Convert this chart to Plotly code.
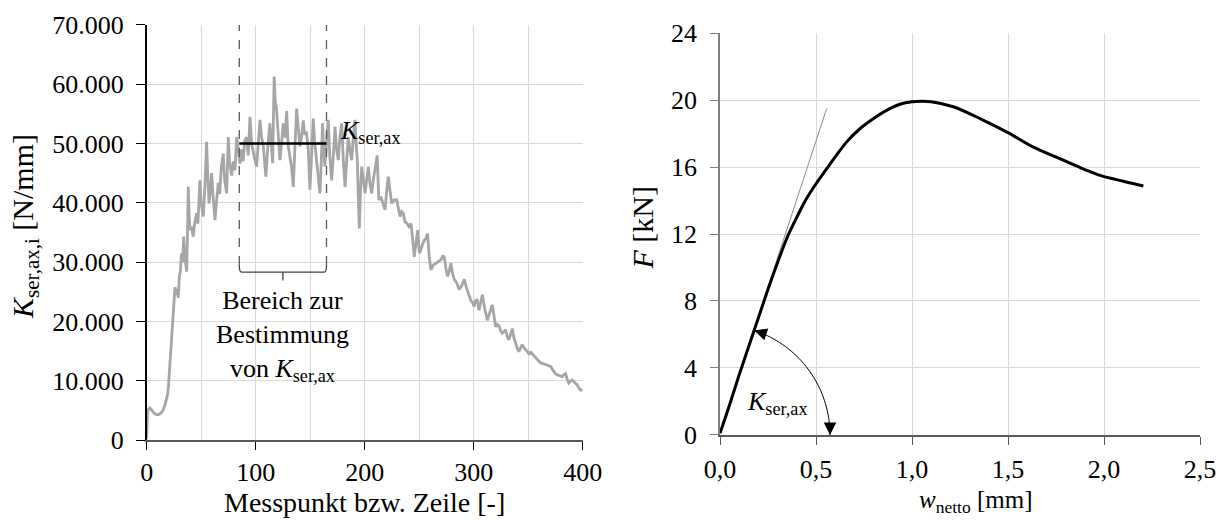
import numpy as np
import plotly.graph_objects as go

# ---------------- data: left chart (K_ser,ax,i per measurement point) ----------------
mp_x = [0, 1, 3, 5, 7, 9, 11, 13, 15, 17, 19, 20, 21, 22, 23, 24, 25, 26, 27, 28, 29, 30, 31, 32, 33, 34, 35, 36,
        36.7, 37.5, 38.2, 39, 39.7, 41, 42.8, 44, 45.9, 47, 48.9, 50, 52, 53.5, 55, 56, 57.2, 58.5, 59.6, 61, 62.7,
        64, 65.7, 67, 68.5, 70.3, 71.5, 73.4, 74.9, 76, 78, 79.5, 81, 82.6, 84, 85.6, 87, 88.5, 90, 91.7, 93.2, 94.8,
        96.3, 97.8, 99.4, 100.9, 102.5, 104, 105.5, 107, 108.2, 109.4, 111, 113, 114.3, 115.6, 117, 118, 119, 120.5,
        122.3, 124, 125.3, 127, 128.5, 129.9, 131.5, 133, 134.5, 136, 137.6, 139, 140.6, 142, 143.7, 145, 146.5,
        148.3, 149.8, 151.3, 152.8, 154.3, 155.9, 157.5, 159, 160.2, 161.4, 162.5, 163.5, 165, 166.6, 168, 169.7,
        171.3, 172.8, 174.3, 175.8, 177.3, 178.9, 180.5, 182, 183.5, 185, 186.5, 188.1, 189.6, 191.1, 192.2, 193.3,
        194.2, 195.1, 196.2, 197.3, 198.8, 200.4, 201.9, 203.4, 205, 206.5, 208, 209.5, 211.5, 213, 215, 216.7,
        218.7, 220.2, 221.7, 223.3, 224.8, 227, 229.4, 231, 232.5, 234, 235.5, 237, 238.6, 240.5, 242.5, 244, 245.5,
        247, 248.6, 250.2, 251.6, 253, 254.7, 256.2, 257.7, 259.2, 260.8, 263, 265.4, 267.7, 270, 271.5, 273, 274.5,
        276.1, 277.6, 279.1, 280.7, 282.2, 284.5, 286.8, 289, 291.4, 293.7, 296, 297.5, 299, 300.3, 301.8, 303.3,
        304.9, 306.5, 308, 310.3, 312.6, 314.8, 317.1, 318.6, 320.2, 321.7, 323.2, 324.7, 326.2, 327.8, 329.3, 330.8,
        332.3, 333.9, 335.4, 336.9, 338.4, 340, 341.5, 343, 344.5, 346, 347.6, 349, 350.6, 352.5, 354.5, 356.8, 359,
        361.4, 363.6, 365.9, 368.2, 370.5, 372, 373.6, 375, 376.6, 379, 381.2, 382.8, 384.3, 385.8, 387.3, 388.8,
        390.4, 392.7, 395, 396.5, 398, 400]
mp_k = [0.3, 5.0, 5.4, 5.0, 4.5, 4.3, 4.3, 4.5, 5.0, 6.0, 7.5, 9, 12, 15, 18, 21, 23.5, 25.8, 24.5, 25.5, 24, 27.5,
        28.5, 31.5, 30, 34.3, 31, 29, 28.4, 35, 42.7, 38, 35.4, 36, 34.3, 36.5, 38.3, 36.5, 43.8, 40, 37.7, 43, 50.3,
        45, 39.9, 42, 45, 41, 37.1, 40, 43.4, 41.5, 46, 48.3, 44, 41.6, 51.1, 47, 44.6, 47, 45.5, 51.1, 48.5, 46.6,
        49, 47, 50.5, 51.1, 48, 54.5, 50, 48.3, 47.2, 46.1, 50, 54, 51, 49.6, 47, 44.4, 49, 53.4, 50, 46.7, 61.3,
        57, 56.2, 52, 47.2, 50.5, 53.4, 51, 55.5, 49.5, 47.5, 46, 42.7, 49, 55.9, 53, 49.5, 51, 53.9, 51.5, 52, 49,
        42.2, 48, 54.2, 50, 47.2, 44, 41.6, 47, 53.4, 49, 46.1, 50, 54, 48, 43.8, 48, 52.8, 49, 47.2, 51, 53.4, 47,
        42.7, 47, 51.1, 49, 47.2, 51, 54, 50, 47.2, 41, 35.7, 42, 46.1, 44, 41.6, 44, 46.1, 43, 41.6, 44, 46.1, 48,
        40.5, 41, 40, 38.8, 42, 44.4, 42, 39.9, 40.5, 40.5, 39, 37.7, 38.5, 38.2, 36.8, 36.6, 36, 36.5, 34, 30.9, 33,
        35.4, 31.5, 32, 33, 33.7, 34, 34.8, 31, 28.7, 29.5, 29.8, 30, 30.4, 31, 30.9, 29, 27.6, 28.5, 29.8, 28, 27.1,
        26.5, 25.4, 26, 27.1, 25.5, 24.3, 23.5, 23.2, 22.5, 23.5, 23.6, 21.9, 23, 24.5, 22, 20.2, 21.5, 22.8, 21,
        19.1, 19.5, 19.3, 18.5, 18.0, 18.3, 18.6, 17.5, 16.9, 17.8, 18.8, 17.3, 16.3, 15.5, 14.9, 15.5, 16.1, 15.6,
        15.2, 14.8, 14.6, 14.8, 14.4, 14.1, 13.6, 13.0, 12.9, 12.7, 12.6, 12.4, 12, 11.5, 11.2, 11.0, 10.9, 10.7,
        11, 11.2, 10.3, 9.6, 9.9, 10.1, 9.7, 9.3, 8.8, 8.4, 8.5]
mp_k_nmm = [v * 1000 for v in mp_k]

k_mean = 50000          # K_ser,ax (N/mm)
range_start, range_end = 85, 165   # Bereich zur Bestimmung
bracket_y = 28300

# ---------------- data: right chart (load-displacement) ----------------
w_netto = [0.0, 0.05, 0.1, 0.15, 0.2, 0.25, 0.3, 0.35, 0.4, 0.45, 0.5, 0.556, 0.6, 0.66, 0.73, 0.80, 0.87,
           0.9375, 1.0, 1.05, 1.1, 1.215, 1.37, 1.5, 1.63, 1.77, 1.9, 1.98, 2.1, 2.205]
force = [0.1, 1.8, 3.6, 5.3, 7.0, 8.7, 10.3, 11.8, 13.0, 14.1, 15.0, 15.9, 16.6, 17.5, 18.3, 18.9, 19.4,
         19.75, 19.9, 19.93, 19.9, 19.6, 18.8, 18.05, 17.2, 16.5, 15.85, 15.5, 15.15, 14.87]
tan_w = [0.0, 0.556]
tan_f = [0.15, 19.5]

FONT = "Liberation Serif"
GRID = "#d9d9d9"
TICK_SIZE = 26

fig = go.Figure()

fig.add_trace(go.Scatter(x=mp_x, y=mp_k_nmm, mode="lines",
                         line=dict(color="#a6a6a6", width=2.8), xaxis="x", yaxis="y",
                         showlegend=False, hoverinfo="skip"))
fig.add_trace(go.Scatter(x=[range_start, range_end], y=[k_mean, k_mean], mode="lines",
                         line=dict(color="black", width=2.6), xaxis="x", yaxis="y",
                         showlegend=False, hoverinfo="skip"))

fig.add_trace(go.Scatter(x=tan_w, y=tan_f, mode="lines",
                         line=dict(color="#8c8c8c", width=1), xaxis="x2", yaxis="y2",
                         showlegend=False, hoverinfo="skip"))
fig.add_trace(go.Scatter(x=w_netto, y=force, mode="lines", line_shape="spline",
                         line=dict(color="black", width=3), xaxis="x2", yaxis="y2",
                         showlegend=False, hoverinfo="skip"))

# domains
L_dom_x = [0.12, 0.4768]
L_dom_y = [0.1538, 0.952]
R_dom_x = [0.5892, 0.982]
R_dom_y = [0.1635, 0.9365]
W, H = 1222, 520

tickfont = dict(family=FONT, size=TICK_SIZE, color="black")

fig.update_layout(
    width=W, height=H, margin=dict(l=0, r=0, t=0, b=0),
    paper_bgcolor="white", plot_bgcolor="white",
    separators=",.",
    font=dict(family=FONT, size=TICK_SIZE, color="black"),
    xaxis=dict(domain=L_dom_x, range=[0, 400], dtick=100, tick0=0, showgrid=True, gridcolor=GRID,
               minor=dict(dtick=50, showgrid=True, gridcolor=GRID, ticks=""),
               showline=True, linecolor="#595959", linewidth=2, ticks="outside", ticklen=8,
               tickcolor="black", tickfont=tickfont, zeroline=False, anchor="y", automargin=False,
               ticklabelstandoff=0),
    yaxis=dict(domain=L_dom_y, range=[0, 70000], dtick=10000, tickformat=",.0f", showgrid=True,
               gridcolor=GRID, showline=True, linecolor="black", linewidth=1.5, ticks="outside",
               ticklen=9, tickcolor="black", tickfont=tickfont, zeroline=False, anchor="x",
               automargin=False, ticklabelstandoff=7),
    xaxis2=dict(domain=R_dom_x, range=[0, 2.5], dtick=0.5, tick0=0, tickformat=".1f", showgrid=True,
                gridcolor=GRID, showline=True, linecolor="#595959", linewidth=2, ticks="outside",
                ticklen=8, tickcolor="#595959", tickfont=tickfont, zeroline=False, anchor="y2",
                automargin=False, ticklabelstandoff=2),
    yaxis2=dict(domain=R_dom_y, range=[0, 24], dtick=4, showgrid=True, gridcolor=GRID, showline=True,
                linecolor="#7f7f7f", linewidth=1.5, ticks="outside", ticklen=8, tickcolor="#7f7f7f",
                tickfont=tickfont, zeroline=False, anchor="x2", automargin=False, ticklabelstandoff=8),
)

# axis titles (placed as paper annotations for exact positioning)
def title(text, x_px, y_px, size, angle=0):
    fig.add_annotation(x=x_px / W, y=1 - y_px / H, xref="paper", yref="paper", text=text, showarrow=False,
                       xanchor="center", yanchor="middle", textangle=angle,
                       font=dict(family=FONT, size=size, color="black"))

title("Messpunkt bzw. Zeile [-]", 364.5, 502, 28)
title("<i>K</i><sub>ser,ax,i</sub> [N/mm]", 25, 227, 30, -90)
title("<i>w</i><sub>netto</sub> [mm]", 975, 501, 25)
title("<i>F</i> [kN]", 641.5, 228, 30, -90)

# dashed vertical lines marking the range
for xv in (range_start, range_end):
    fig.add_shape(type="line", xref="x", yref="y", x0=xv, x1=xv, y0=bracket_y + 1200, y1=70000,
                  line=dict(color="#595959", width=1.3, dash="dash"))
# bracket
r = 1200
fig.add_shape(type="path", xref="x", yref="y",
              path=(f"M {range_start},{bracket_y + r} Q {range_start},{bracket_y} {range_start + 2},{bracket_y} "
                    f"L {range_end - 2},{bracket_y} Q {range_end},{bracket_y} {range_end},{bracket_y + r}"),
              line=dict(color="#404040", width=1.3))
mid = (range_start + range_end) / 2
fig.add_shape(type="line", xref="x", yref="y", x0=mid, x1=mid, y0=bracket_y, y1=bracket_y - 1400,
              line=dict(color="#404040", width=1.3))

fig.add_annotation(x=mid, y=bracket_y - 2000, xref="x", yref="y", xanchor="center", yanchor="top",
                   text="Bereich zur<br>Bestimmung<br>von <i>K</i><sub>ser,ax</sub>", showarrow=False,
                   align="center", font=dict(family=FONT, size=26, color="black"))
fig.add_annotation(x=176, y=52000, xref="x", yref="y", xanchor="left", yanchor="middle",
                   text="<i>K</i><sub>ser,ax</sub>", showarrow=False,
                   font=dict(family=FONT, size=26, color="black"))

# right chart: angle arc between tangent and w-axis
px_x = (R_dom_x[1] - R_dom_x[0]) * W / 2.5
px_y = (R_dom_y[1] - R_dom_y[0]) * H / 24
rad = 110
ang_top = np.arctan2((tan_f[1] - tan_f[0]) * px_y, (tan_w[1] - tan_w[0]) * px_x)
th = np.linspace(0, ang_top, 40)
pts = [(rad * np.cos(t) / px_x, rad * np.sin(t) / px_y) for t in th]
path = "M " + " L ".join(f"{a:.4f},{b:.4f}" for a, b in pts)
fig.add_shape(type="path", xref="x2", yref="y2", path=path, line=dict(color="black", width=1))

L = 13
# bottom arrowhead (pointing down onto the w-axis)
fig.add_annotation(x=pts[0][0], y=pts[0][1], xref="x2", yref="y2", ax=0, ay=-L, showarrow=True,
                   arrowhead=2, arrowsize=2.5, arrowwidth=1, arrowcolor="black", text="")
# top arrowhead (pointing onto the tangent)
fig.add_annotation(x=pts[-1][0], y=pts[-1][1], xref="x2", yref="y2",
                   ax=L * np.sin(ang_top), ay=L * np.cos(ang_top), showarrow=True,
                   arrowhead=2, arrowsize=2.5, arrowwidth=1, arrowcolor="black", text="")
fig.add_annotation(x=0.13, y=1.9, xref="x2", yref="y2", xanchor="left", yanchor="middle",
                   text="<i>K</i><sub>ser,ax</sub>", showarrow=False,
                   font=dict(family=FONT, size=26, color="black"))

fig.write_html("out.html")
